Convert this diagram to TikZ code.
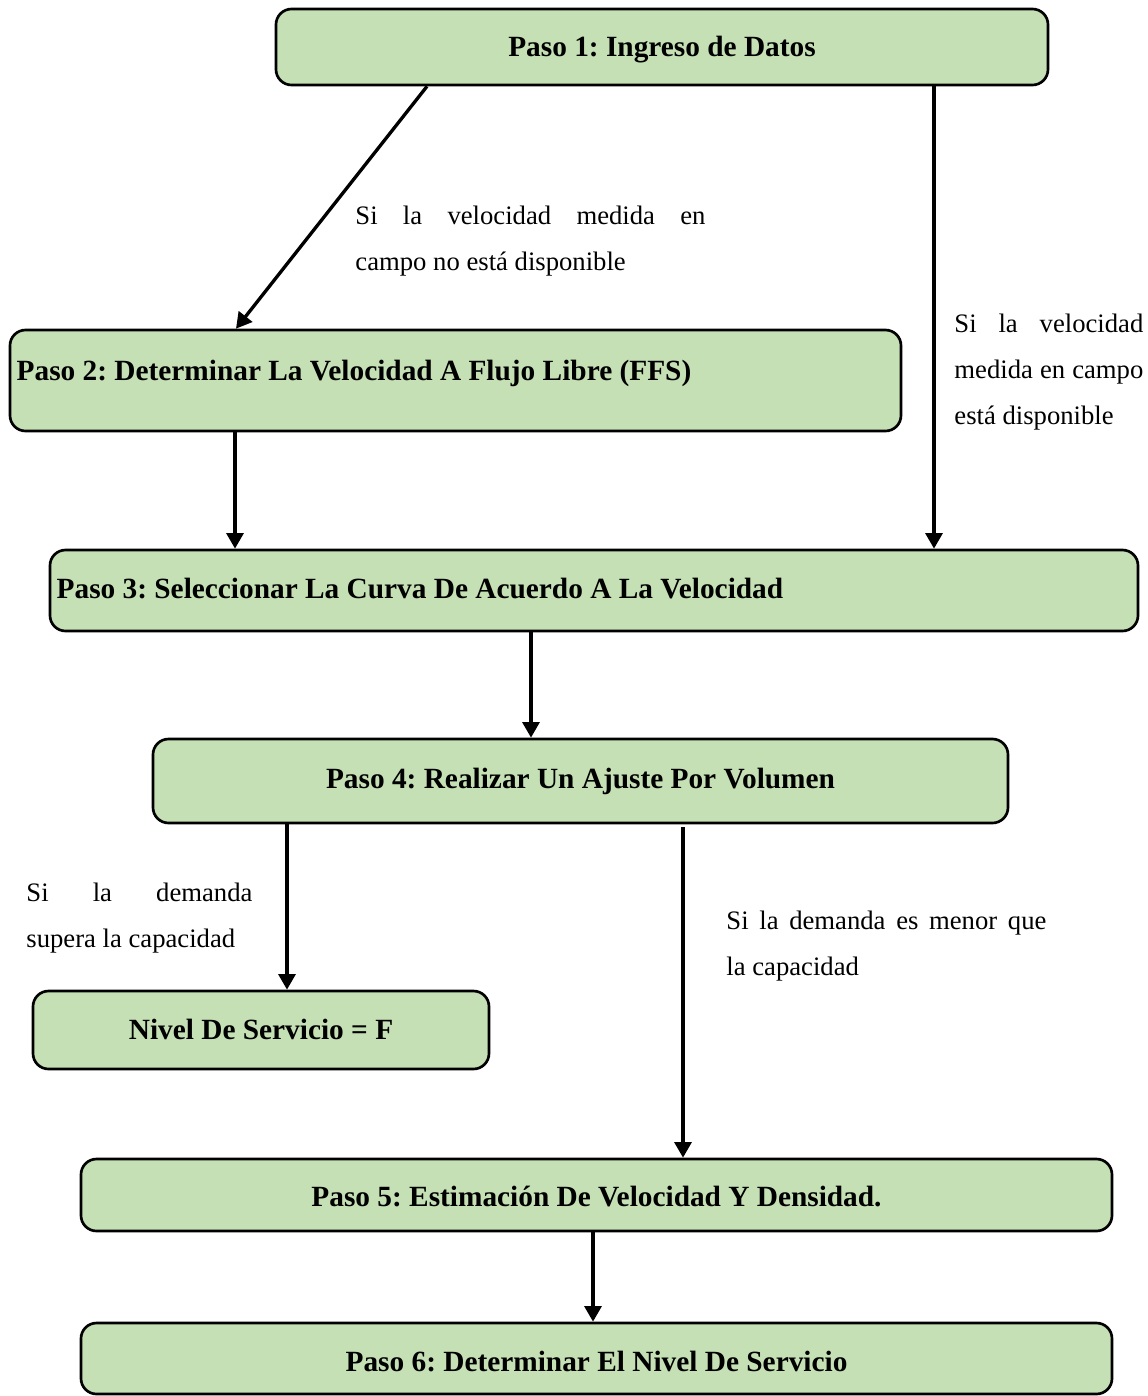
\documentclass[tikz,border=0pt]{standalone}
\usepackage{fontspec}
\setmainfont{Liberation Serif}
\usepackage{xcolor}
\usetikzlibrary{arrows.meta,positioning}
\frenchspacing
\definecolor{boxgreen}{HTML}{C5E0B4}
\tikzset{font={\fontsize{12pt}{20.7pt}\selectfont}}
\tikzset{
  stepbox/.style={draw, line width=1.2pt, fill=boxgreen, rounded corners=7pt,
    inner sep=0pt, text height=10.4pt, text depth=2pt,
    font={\bfseries\fontsize{13.2pt}{15pt}\selectfont}},
  leftbox/.style={stepbox, align=flush left, inner xsep=3pt},
  flow/.style={-{Triangle[width=7.6pt,length=7pt]}, line width=1.5pt},
  note/.style={inner sep=0pt, align=justify, anchor=west,
    execute at begin node={\hyphenpenalty=10000\exhyphenpenalty=10000\tolerance=10000}},
}

\begin{document}
\begin{tikzpicture}[x=0.45pt, y=-0.45pt]
  \useasboundingbox (0,0) rectangle (1147,1396);
  % Define nodes
  \node[stepbox, minimum width=347.4pt, minimum height=34.2pt] (p1) at (662,47) {Paso 1: Ingreso de Datos};
  \node[leftbox, minimum width=400.95pt, minimum height=45.45pt, text width=394.95pt, text height=1.8pt] (p2) at (455.5,380.5)
    {Paso 2: Determinar La Velocidad A Flujo Libre (FFS)};
  \node[leftbox, minimum width=489.6pt, minimum height=36.45pt, text width=483.6pt, text height=9pt] (p3) at (594,590.5)
    {Paso 3: Seleccionar La Curva De Acuerdo A La Velocidad};
  \node[stepbox, minimum width=384.75pt, minimum height=37.8pt, text height=8.5pt] (p4) at (580.5,781) {Paso 4: Realizar Un Ajuste Por Volumen};
  \node[stepbox, minimum width=205.2pt, minimum height=35.1pt] (nf) at (261,1030) {Nivel De Servicio = F};
  \node[stepbox, minimum width=463.95pt, minimum height=32.4pt, text height=12.2pt] (p5) at (596.5,1195) {Paso 5: Estimación De Velocidad Y Densidad.};
  \node[stepbox, minimum width=463.95pt, minimum height=31.95pt, text height=13.4pt] (p6) at (596.5,1358.5) {Paso 6: Determinar El Nivel De Servicio};

  % Labels
  \node[note, text width=157.5pt] (nodisp) at (355,241) {Si la velocidad medida en\linebreak campo no está disponible};
  \node[note, text width=85pt] (disp) at (954,372) {Si la velocidad\linebreak medida en campo\linebreak está disponible};
  \node[note, text width=101.7pt] (supera) at (26,918) {Si la demanda\linebreak supera la capacidad};
  \node[note, text width=144pt] (menor) at (726,946) {Si la demanda es menor que\linebreak la capacidad};
  \coordinate (c6) at (683,827);

  % Connect the nodes
  \draw[flow] (p1.south -| 427,0) -- (p2.north -| 236,0);
  \draw[flow] (p1.south -| 934,0) -- (p3.north -| 934,0);
  \draw[flow] (p2.south -| 235,0) -- (p3.north -| 235,0);
  \draw[flow] (p3.south -| 531,0) -- (p4.north -| 531,0);
  \draw[flow] (p4.south -| 287,0) -- (nf.north -| 287,0);
  \draw[flow] (c6) -- (p5.north -| c6);
  \draw[flow] (p5.south -| 593,0) -- (p6.north -| 593,0);
\end{tikzpicture}
\end{document}
